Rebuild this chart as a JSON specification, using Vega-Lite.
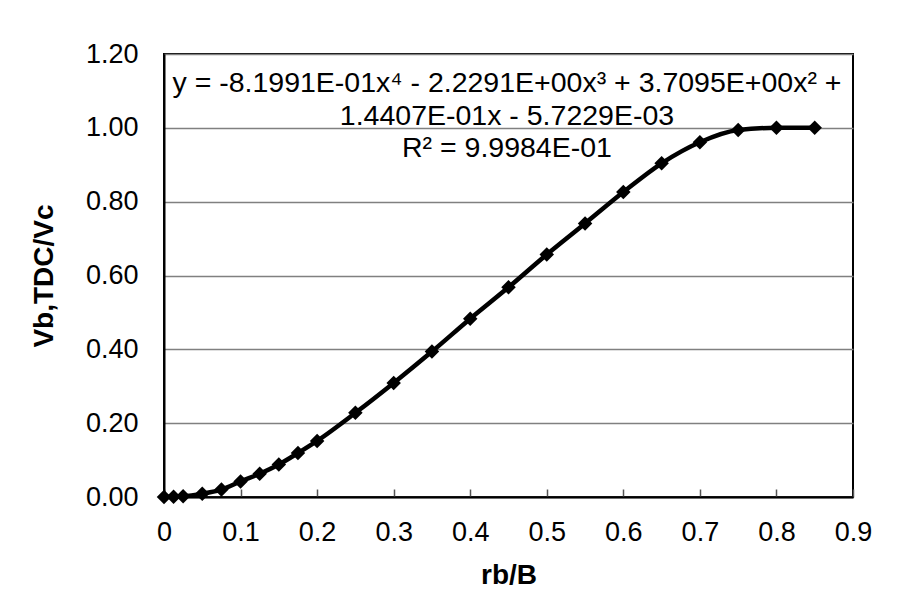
{
  "$schema": "https://vega.github.io/schema/vega-lite/v6.json",
  "width": 689,
  "height": 443,
  "autosize": {"type": "none"},
  "padding": {"left": 164, "top": 54, "right": 56, "bottom": 115},
  "background": "white",
  "config": {
    "font": "Liberation Sans",
    "view": {"stroke": "black", "strokeWidth": 2}
  },
  "layer": [
    {
      "data": {"name": "pts"},
      "mark": {"type": "line", "color": "black", "strokeWidth": 4.5, "interpolate": "monotone", "clip": true},
      "encoding": {
        "x": {
          "field": "rb",
          "type": "quantitative",
          "scale": {"domain": [0, 0.9], "nice": false, "zero": false},
          "axis": {
            "title": "rb/B",
            "titleFont": "Liberation Sans",
            "titleFontSize": 28,
            "titleFontWeight": "bold",
            "titleColor": "black",
            "titlePadding": 16,
            "values": [0, 0.1, 0.2, 0.3, 0.4, 0.5, 0.6, 0.7, 0.8, 0.9],
            "labelExpr": "datum.value == 0 ? '0' : format(datum.value, '.1f')",
            "labelFontSize": 27,
            "labelColor": "black",
            "labelPadding": 30,
            "labelFlush": false,
            "labelOverlap": false,
            "grid": false,
            "domainColor": "black",
            "domainWidth": 2,
            "tickColor": "#555555",
            "tickSize": -8,
            "tickWidth": 1.5
          }
        },
        "y": {
          "field": "v",
          "type": "quantitative",
          "scale": {"domain": [0, 1.2], "nice": false, "zero": false},
          "axis": {
            "title": "Vb,TDC/Vc",
            "titleFont": "Liberation Sans",
            "titleFontSize": 28,
            "titleFontWeight": "bold",
            "titleColor": "black",
            "titlePadding": 27,
            "values": [0, 0.2, 0.4, 0.6, 0.8, 1.0, 1.2],
            "format": ".2f",
            "labelFontSize": 27,
            "labelColor": "black",
            "labelPadding": 26,
            "labelFlush": false,
            "ticks": false,
            "tickSize": 0,
            "grid": true,
            "gridColor": "#808080",
            "gridWidth": 1.5,
            "domainColor": "black",
            "domainWidth": 2
          }
        }
      }
    },
    {
      "data": {"name": "pts"},
      "mark": {"type": "point", "shape": "diamond", "filled": true, "color": "black", "size": 210, "opacity": 1},
      "encoding": {
        "x": {"field": "rb", "type": "quantitative"},
        "y": {"field": "v", "type": "quantitative"}
      }
    },
    {
      "data": {"values": [{"label": "trendline"}]},
      "mark": {
        "type": "text",
        "text": ["y = -8.1991E-01x⁴ - 2.2291E+00x³ + 3.7095E+00x² +", "1.4407E-01x - 5.7229E-03", "R² = 9.9984E-01"],
        "font": "Liberation Sans",
        "fontSize": 28.5,
        "lineHeight": 32.5,
        "align": "center",
        "baseline": "middle",
        "color": "black"
      },
      "encoding": {
        "x": {"datum": 0.448},
        "y": {"datum": 1.121}
      }
    }
  ],
  "datasets": {
    "pts": [
      {"rb": 0, "v": 0.0},
      {"rb": 0.0125, "v": 0.001},
      {"rb": 0.025, "v": 0.002},
      {"rb": 0.05, "v": 0.009},
      {"rb": 0.075, "v": 0.02},
      {"rb": 0.1, "v": 0.042},
      {"rb": 0.125, "v": 0.063},
      {"rb": 0.15, "v": 0.088},
      {"rb": 0.175, "v": 0.119},
      {"rb": 0.2, "v": 0.152},
      {"rb": 0.25, "v": 0.228},
      {"rb": 0.3, "v": 0.309},
      {"rb": 0.35, "v": 0.394},
      {"rb": 0.4, "v": 0.483},
      {"rb": 0.45, "v": 0.568},
      {"rb": 0.5, "v": 0.657},
      {"rb": 0.55, "v": 0.741},
      {"rb": 0.6, "v": 0.826},
      {"rb": 0.65, "v": 0.904},
      {"rb": 0.7, "v": 0.961},
      {"rb": 0.75, "v": 0.994},
      {"rb": 0.8, "v": 1.0},
      {"rb": 0.85, "v": 1.0}
    ]
  }
}
